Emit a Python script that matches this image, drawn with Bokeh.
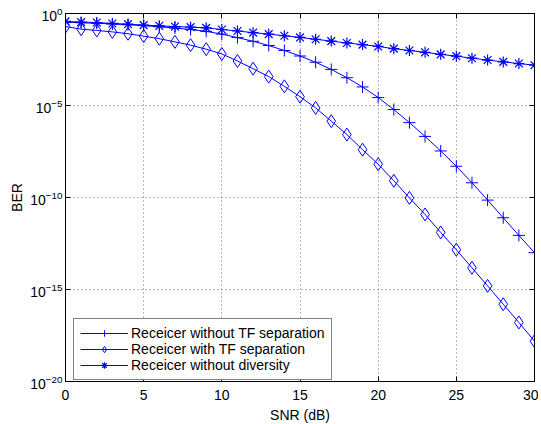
from bokeh.plotting import figure
from bokeh.models import FixedTicker, LinearAxis, LogAxis, CustomJSTickFormatter
from bokeh.embed import file_html
from bokeh.resources import INLINE

# ---- data ----
snr_db = list(range(0, 31))

ber_without_tf = [0.339, 0.316, 0.295, 0.269, 0.245, 0.219, 0.191, 0.162, 0.135, 0.107,
                  0.0759, 0.0490, 0.0309, 0.0182, 0.00977, 0.00490, 2.24e-3, 9.12e-4, 3.24e-4, 1.02e-4,
                  2.69e-5, 6.03e-6, 1.17e-6, 2.09e-7, 3.39e-8, 5.01e-9, 6.31e-10, 7.24e-11, 7.94e-12,
                  8.71e-13, 1.0e-13]

ber_with_tf = [0.195, 0.141, 0.120, 0.100, 0.0794, 0.0589, 0.0427, 0.0288, 0.0191, 0.0115,
               6.31e-3, 2.63e-3, 1.0e-3, 3.72e-4, 1.10e-4, 3.02e-5, 7.41e-6, 1.41e-6, 2.63e-7, 3.98e-8,
               6.46e-9, 8.13e-10, 9.55e-11, 1.20e-11, 1.26e-12, 1.45e-13, 1.51e-14, 1.58e-15, 1.58e-16,
               1.62e-17, 1.55e-18]

ber_no_diversity = [0.372, 0.339, 0.324, 0.288, 0.263, 0.234, 0.214, 0.195, 0.182, 0.166,
                    0.135, 0.112, 0.0912, 0.0759, 0.0617, 0.0501, 0.0398, 0.0316, 0.0251, 0.0204,
                    0.0162, 0.0123, 0.00977, 0.00776, 0.00603, 0.00479, 0.00372, 0.00295, 0.00234,
                    0.00191, 0.00155]

labels = ["Receicer without TF separation", "Receicer with TF separation", "Receicer without diversity"]
x_ticks = [0, 5, 10, 15, 20, 25, 30]
y_ticks = [1e-20, 1e-15, 1e-10, 1e-5, 1]

FONT = "Liberation Sans"
BLUE = "#0000ff"

p = figure(x_range=(0, 30), y_range=(1e-20, 1), y_axis_type="log",
           frame_width=469, frame_height=368,
           min_border_left=65, min_border_right=4, min_border_top=13, min_border_bottom=37,
           output_backend="svg", toolbar_location=None,
           background_fill_color="white", border_fill_color="white")

p.outline_line_color = "black"
p.outline_line_width = 1

# series
p.line(snr_db, ber_without_tf, line_color=BLUE, line_width=1, legend_label=labels[0])
p.scatter(snr_db, ber_without_tf, marker="cross", size=12, line_color=BLUE, line_width=1,
          legend_label=labels[0])
p.line(snr_db, ber_with_tf, line_color=BLUE, line_width=1, legend_label=labels[1])
p.scatter(snr_db, ber_with_tf, marker="diamond", size=13, line_color=BLUE, fill_color=None,
          line_width=1, legend_label=labels[1])
p.line(snr_db, ber_no_diversity, line_color=BLUE, line_width=1, legend_label=labels[2])
p.scatter(snr_db, ber_no_diversity, marker="asterisk", size=11, line_color=BLUE, line_width=1.2,
          legend_label=labels[2])

# axes
for ax in (p.xaxis, p.yaxis):
    ax.axis_line_color = "black"
    ax.major_tick_line_color = "black"
    ax.major_tick_in = 5
    ax.major_tick_out = 0
    ax.minor_tick_line_color = None
    ax.major_label_text_font = FONT
    ax.major_label_text_font_size = "14px"
    ax.major_label_text_color = "black"
    ax.axis_label_text_font = FONT
    ax.axis_label_text_font_size = "14px"
    ax.axis_label_text_font_style = "normal"
    ax.axis_label_text_color = "black"

p.xaxis.ticker = FixedTicker(ticks=x_ticks)
p.yaxis.ticker = FixedTicker(ticks=y_ticks)
p.xaxis.axis_label = "SNR (dB)"
p.yaxis.axis_label = "BER"
p.xaxis.major_label_standoff = 8
p.xaxis.axis_label_standoff = 4
p.yaxis.major_label_standoff = 3
p.yaxis.axis_label_standoff = 2

top = LinearAxis(ticker=FixedTicker(ticks=x_ticks), formatter=CustomJSTickFormatter(code="return ''"),
                 major_label_standoff=0, major_tick_in=5, major_tick_out=0,
                 minor_tick_line_color=None, axis_line_color="black")
right = LogAxis(ticker=FixedTicker(ticks=y_ticks), formatter=CustomJSTickFormatter(code="return ''"),
                major_label_standoff=0, major_tick_in=5, major_tick_out=0,
                minor_tick_line_color=None, axis_line_color="black")
p.add_layout(top, "above")
p.add_layout(right, "right")

# grid
for g in (p.xgrid, p.ygrid):
    g.grid_line_color = "#6f6f6f"
    g.grid_line_dash = "1 3"
    g.grid_line_width = 1
p.xgrid.ticker = FixedTicker(ticks=[5, 10, 15, 20, 25])
p.ygrid.ticker = FixedTicker(ticks=[1e-15, 1e-10, 1e-5])

# legend
lg = p.legend[0]
lg.location = (8, 1)
lg.margin = 0
lg.padding = 6
lg.spacing = 0
lg.label_height = 16
lg.glyph_height = 16
lg.glyph_width = 48
lg.label_standoff = 3
lg.label_text_font = FONT
lg.label_text_font_size = "14px"
lg.label_text_color = "black"
lg.border_line_color = "black"
lg.border_line_width = 1
lg.background_fill_color = "white"
lg.background_fill_alpha = 1

open("out.html", "w").write(file_html(p, INLINE))
